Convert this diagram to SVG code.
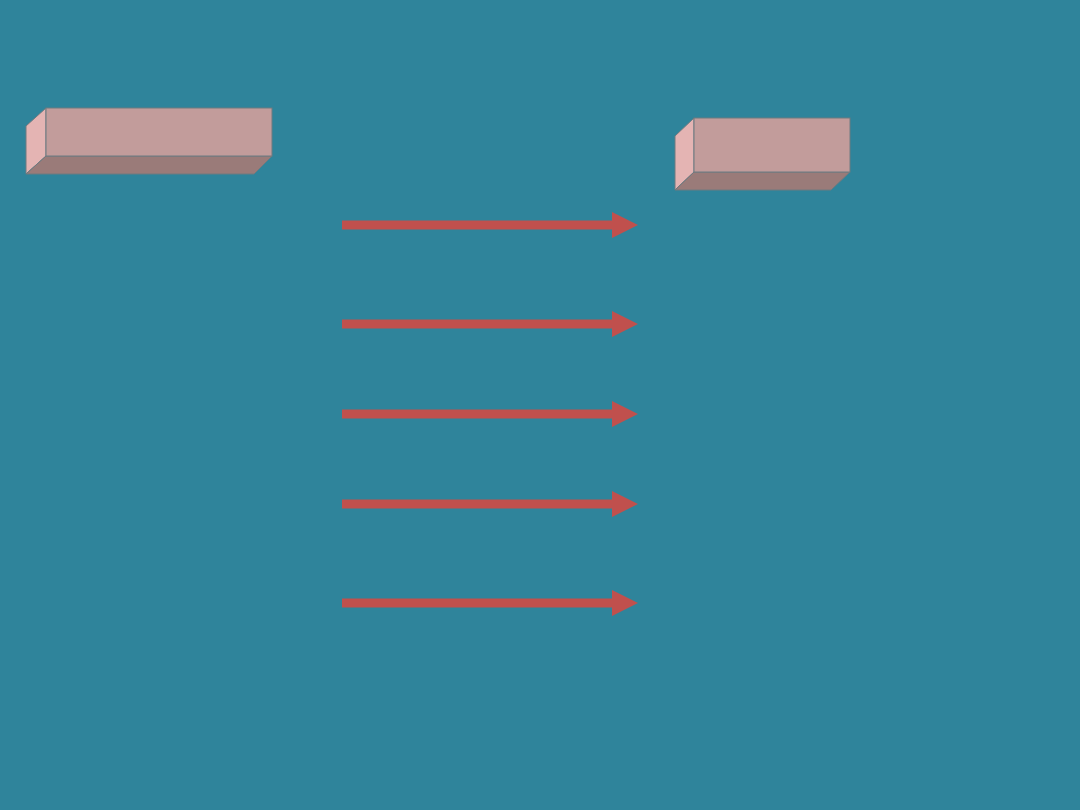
<svg xmlns="http://www.w3.org/2000/svg" width="1080" height="810" viewBox="0 0 1080 810">
<style>
.front{fill:#C29C9B;stroke:#6E7A80;stroke-width:1}
.side{fill:#E4B4B3;stroke:#6E7A80;stroke-width:1}
.bottom{fill:#9A7B79;stroke:#6E7A80;stroke-width:1}
.shaft{fill:#C0504D}
</style>
<defs>
<g id="arrow"><rect class="shaft" x="342" y="-4.5" width="272" height="9"/><polygon class="shaft" points="612,-13 638,0 612,13"/></g>
</defs>
<rect width="1080" height="810" fill="#2F849B"/>
<g id="box-left">
<polygon class="side" points="26,126 46,108 46,156 26,174"/>
<polygon class="bottom" points="46,156 272,156 254,174 26,174"/>
<rect class="front" x="46" y="108" width="226" height="48"/>
</g>
<g id="box-right">
<polygon class="side" points="675,136 694,118 694,172 675,190"/>
<polygon class="bottom" points="694,172 850,172 831,190 675,190"/>
<rect class="front" x="694" y="118" width="156" height="54"/>
</g>
<g id="connectors">
<use href="#arrow" transform="translate(0,225)"/>
<use href="#arrow" transform="translate(0,324)"/>
<use href="#arrow" transform="translate(0,414)"/>
<use href="#arrow" transform="translate(0,504)"/>
<use href="#arrow" transform="translate(0,603)"/>
</g>
</svg>
